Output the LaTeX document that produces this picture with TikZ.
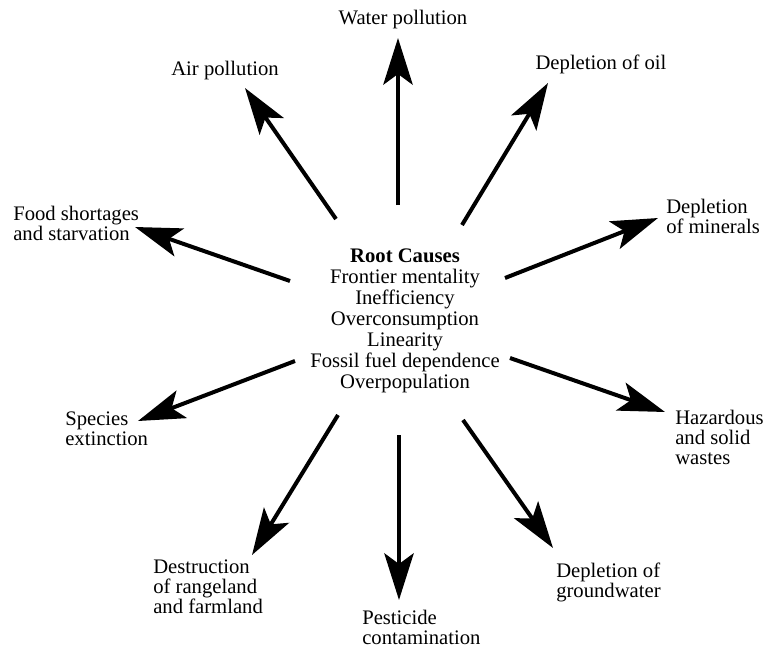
\documentclass[tikz,border=0pt]{standalone}
\usepackage{fontspec}
\setmainfont{Liberation Serif}
\usetikzlibrary{arrows.meta}
\begin{document}
\begin{tikzpicture}[x=0.75pt,y=-0.75pt,
  causearrow/.style={line width=3pt,
    -{Stealth[length=35pt,width=22pt,inset=8pt]}},
  effect/.style={inner sep=0pt,align=left,anchor=north west,
    font=\fontsize{15.5pt}{15pt}\selectfont},
  effectline/.style={inner sep=0pt,anchor=base,
    font=\fontsize{15.5pt}{15pt}\selectfont},
  causes/.style={inner sep=0pt,align=center,anchor=north,
    font=\fontsize{15.5pt}{15.75pt}\selectfont}]
\useasboundingbox (0,0) rectangle (769,650);

% central list of root causes
\node[causes] (root) at (405,249)
  {\textbf{Root Causes}\\Frontier mentality\\Inefficiency\\Overconsumption\\Linearity\\Fossil fuel dependence\\Overpopulation};

% consequences
\node[effectline] (water) at (403,24) {Water pollution};
\node[effectline] (air) at (225,75) {Air pollution};
\node[effectline] (oil) at (601,69) {Depletion of oil};
\node[effect] (minerals) at (666,199) {Depletion\\of minerals};
\node[effect] (food) at (13,206) {Food shortages\\and starvation};
\node[effect] (species) at (65,412) {Species\\extinction};
\node[effect] (hazard) at (675,410) {Hazardous\\and solid\\wastes};
\node[effect] (range) at (153,560) {Destruction\\of rangeland\\and farmland};
\node[effect] (pest) at (362,610) {Pesticide\\contamination};
\node[effect] (ground) at (556,563) {Depletion of\\groundwater};

% arrow ends
\coordinate (waterS) at (398,205);  \coordinate (waterT) at (398,38);
\coordinate (airS) at (336,219);    \coordinate (airT) at (245,88);
\coordinate (oilS) at (462,225);    \coordinate (oilT) at (548,83);
\coordinate (minS) at (505,278);    \coordinate (minT) at (658,218);
\coordinate (foodS) at (290,281);   \coordinate (foodT) at (135,227);
\coordinate (specS) at (295,361);   \coordinate (specT) at (138,421);
\coordinate (hazS) at (510,358);    \coordinate (hazT) at (665,412);
\coordinate (rangeS) at (338,415);  \coordinate (rangeT) at (252,555);
\coordinate (pestS) at (399,435);   \coordinate (pestT) at (399,600);
\coordinate (groundS) at (463,420); \coordinate (groundT) at (553,548);

\draw[causearrow] (waterS) -- (waterT);
\draw[causearrow] (airS) -- (airT);
\draw[causearrow] (oilS) -- (oilT);
\draw[causearrow] (minS) -- (minT);
\draw[causearrow] (foodS) -- (foodT);
\draw[causearrow] (specS) -- (specT);
\draw[causearrow] (hazS) -- (hazT);
\draw[causearrow] (rangeS) -- (rangeT);
\draw[causearrow] (pestS) -- (pestT);
\draw[causearrow] (groundS) -- (groundT);
\end{tikzpicture}
\end{document}
